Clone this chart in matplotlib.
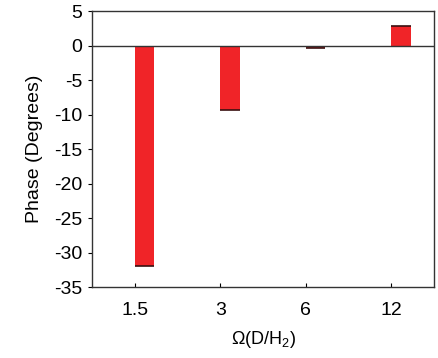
import matplotlib.pyplot as plt
import numpy as np

plt.rcParams['font.family'] = ['Liberation Sans', 'DejaVu Sans']
plt.rcParams['mathtext.fontset'] = 'custom'
plt.rcParams['mathtext.rm'] = 'Liberation Sans'
plt.rcParams['axes.unicode_minus'] = False

categories = ['1.5', '3', '6', '12']
phase = [-32.0, -9.3, -0.3, 2.8]

x = np.arange(len(categories))
width = 0.23

fig = plt.figure(figsize=(4.38, 3.58), dpi=100)
ax = fig.add_axes([0.21, 0.198, 0.781, 0.771])

ax.bar(x, phase, width=width, align='edge', color='#f02428', edgecolor='none', zorder=2)
# dark cap at the end of each bar
ax.hlines(phase, x, x + width, color='#3a1010', lw=1.2, zorder=3)
ax.axhline(0, color='#333333', lw=1.0, zorder=4)

ax.set_xlim(-0.5, 3.5)
ax.set_ylim(-35, 5)
ax.set_xticks(x)
ax.set_xticklabels(categories)
ax.set_yticks(np.arange(-35, 6, 5))

ax.tick_params(axis='x', direction='in', length=3, labelsize=14, pad=11)
ax.tick_params(axis='y', direction='out', length=3, labelsize=14, pad=4)
for s in ax.spines.values():
    s.set_linewidth(1.0)
    s.set_color('#333333')

ax.set_ylabel('Phase (Degrees)', fontsize=14, labelpad=8)
ax.set_xlabel(r'Ω(D/H$_\mathregular{2}$)', fontsize=13, labelpad=7)

fig.savefig('out.png', dpi=100)
